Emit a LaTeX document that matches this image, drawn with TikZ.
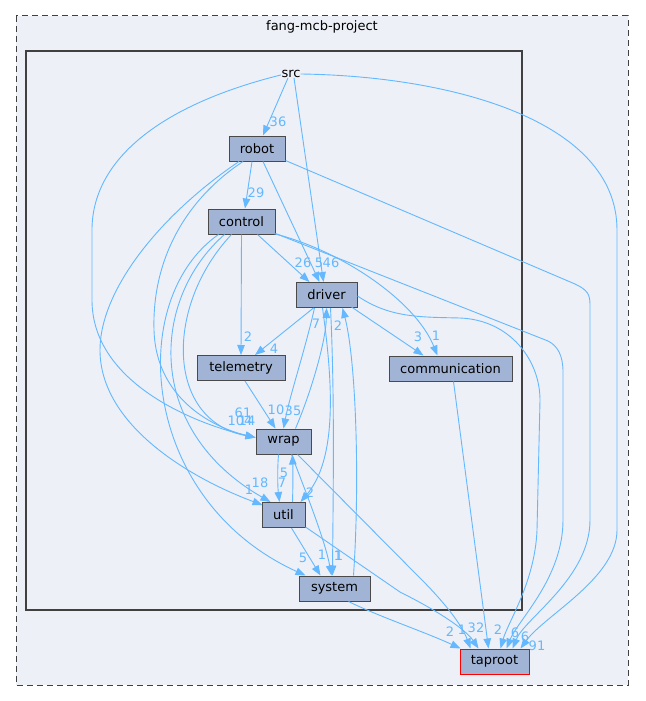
\documentclass[tikz,border=0pt]{standalone}
\usepackage{fontspec}
\setmainfont{DejaVu Sans}
\usetikzlibrary{arrows.meta,calc}
\definecolor{edgeblue}{HTML}{63B8FF}
\definecolor{nodefill}{HTML}{A2B4D6}
\definecolor{nodeborder}{HTML}{4A4A4A}
\definecolor{clusterfill}{HTML}{EDF0F7}
\definecolor{clusterborder}{HTML}{404040}
\newcommand{\dfont}{\fontsize{13}{15}\selectfont}
\begin{document}
\begin{tikzpicture}[x=1pt,y=-1pt,
  dep/.style={draw=edgeblue, line width=0.9pt, -{Triangle[length=10pt,width=7.5pt]}},
  dirbox/.style={draw=nodeborder, fill=nodefill, line width=1pt, minimum height=25pt, inner sep=0pt, font=\dfont},
  elab/.style={text=edgeblue, inner sep=0pt, font=\dfont},
  plainlab/.style={inner sep=0pt, font=\dfont}]
\useasboundingbox (0,0) rectangle (645,701);
\fill[white] (0,0) rectangle (645,701);
% clusters
\draw[clusterborder, fill=clusterfill, line width=1pt, dash pattern=on 6pt off 4pt] (16,16) rectangle (628,685);
\node[plainlab] (projlabel) at (322,27) {fang-mcb-project};
\draw[clusterborder, fill=clusterfill, line width=2pt] (26,51) rectangle (522,610);
% nodes
\node[plainlab] (src) at (291,74) {src};
\node[dirbox, minimum width=56pt] (robot) at (257,148.5) {robot};
\node[dirbox, minimum width=67pt] (control) at (241.5,221.5) {control};
\node[dirbox, minimum width=61pt] (driver) at (326.5,295) {driver};
\node[dirbox, minimum width=88pt] (telemetry) at (241,368) {telemetry};
\node[dirbox, minimum width=123pt] (communication) at (450.5,368.5) {communication};
\node[dirbox, minimum width=55pt] (wrap) at (283.5,441.5) {wrap};
\node[dirbox, minimum width=43pt] (util) at (283.5,515) {util};
\node[dirbox, minimum width=71pt] (system) at (334.5,588.5) {system};
\node[dirbox, draw=red, minimum width=69pt] (taproot) at (494.5,661.5) {taproot};
% src edges
\draw[dep] ([xshift=-3pt]src.south) -- ([xshift=6pt]robot.north);
\draw[dep] ([xshift=3pt]src.south) -- ([xshift=-3pt]driver.north);
\draw[dep] ([xshift=-10pt,yshift=3pt]src.south) .. controls (160,105) and (92,160) .. (92,230) -- (92,300) .. controls (92,385) and (200,425) .. ([yshift=4pt]wrap.west);
\draw[dep] (src.east) .. controls (450,76) and (617,120) .. (617,230) -- (617,530) .. controls (617,578) and (545,615) .. ([xshift=26pt]taproot.north);
% robot edges
\draw[dep] ([xshift=-5pt]robot.south) -- ([xshift=3.5pt]control.north);
\draw[dep] ([xshift=6pt]robot.south) -- ([xshift=-7pt]driver.north);
\draw[dep] ([yshift=1pt]robot.south east) -- (575,284) .. controls (588,290) and (590,295) .. (590,305) -- (590,520) .. controls (590,578) and (525,618) .. ([xshift=18pt]taproot.north);
\draw[dep] ([xshift=-18pt]robot.south) .. controls (160,215) and (100,290) .. (100,350) .. controls (100,425) and (190,478) .. ([xshift=-21pt,yshift=-3pt]util.north);
\draw[dep] ([xshift=-14pt]robot.south) .. controls (185,200) and (152,260) .. (154,330) .. controls (156,400) and (215,428) .. ([yshift=4pt]wrap.west);
% control edges
\draw[dep] (control.south) -- (telemetry.north);
\draw[dep] ([xshift=16pt]control.south) -- ([xshift=-17pt]driver.north);
\draw[dep] ([yshift=1pt,xshift=-2pt]control.south east) .. controls (340,250) and (415,300) .. ([xshift=-13pt]communication.north);
\draw[dep] ([yshift=1pt]control.south east) -- (548,341) .. controls (558,346) and (563,356) .. (563,372) -- (563,520) .. controls (563,578) and (518,620) .. ([xshift=12pt]taproot.north);
\draw[dep] ([xshift=-10pt]control.south) .. controls (165,305) and (165,420) .. ([yshift=4pt]wrap.west);
\draw[dep] ([xshift=-17pt]control.south) .. controls (150,300) and (145,430) .. ([xshift=-13pt]util.north);
\draw[dep] ([xshift=-23pt]control.south) .. controls (125,300) and (140,500) .. ([xshift=-29pt]system.north);
% driver edges
\draw[dep] ([xshift=-13pt]driver.south) -- ([xshift=14pt]telemetry.north);
\draw[dep] ([xshift=-6pt,yshift=1pt]driver.south east) -- ([xshift=-27pt]communication.north);
\draw[dep] ([xshift=-12pt]driver.south) .. controls (305,350) and (290,395) .. (wrap.north);
\draw[dep] ([xshift=-4pt]driver.south) .. controls (334,390) and (336,460) .. ([xshift=17pt]util.north);
\draw[dep] ([xshift=4pt]driver.south) .. controls (335,400) and (333,500) .. ([xshift=-2pt]system.north);
\draw[dep] ([yshift=-1pt]driver.east) .. controls (390,318) and (420,317) .. (460,318) .. controls (510,320) and (540,360) .. (540,400) -- (537,530) .. controls (535,582) and (508,622) .. ([xshift=6pt]taproot.north);
% telemetry edges
\draw[dep] ([xshift=4pt]telemetry.south) -- ([xshift=-8pt]wrap.north);
% wrap edges
\draw[dep] ([xshift=12pt]wrap.north) .. controls (312,390) and (326,340) .. (driver.south);
\draw[dep] ([xshift=-5pt]wrap.south) .. controls (277,475) and (278,490) .. ([xshift=-4pt]util.north);
\draw[dep] ([xshift=8pt]wrap.south) .. controls (305,490) and (325,540) .. ([xshift=-3pt]system.north);
\draw[dep] ([xshift=14pt]wrap.south) -- (420,578) .. controls (445,603) and (462,625) .. ([xshift=-24pt]taproot.north);
% util edges
\draw[dep] ([xshift=9pt]util.north) .. controls (293,485) and (293,470) .. ([xshift=9pt]wrap.south);
\draw[dep] ([xshift=8pt]util.south) -- ([xshift=-14pt]system.north);
\draw[dep] ([yshift=1pt]util.south east) -- (400,592) .. controls (440,612) and (466,630) .. ([xshift=-16pt]taproot.north);
% system edges
\draw[dep] ([xshift=19pt]system.north) .. controls (360,480) and (356,360) .. ([xshift=16pt]driver.south);
\draw[dep] ([xshift=14pt]system.south) .. controls (380,617) and (425,632) .. ([xshift=-34pt]taproot.north);
% communication edges
\draw[dep] ([xshift=3pt]communication.south) -- ([xshift=-6pt]taproot.north);
% edge labels
\node[elab] (l36) at (278,122) {36};
\node[elab] (l46) at (331,263) {46};
\node[elab] (l104) at (240,421) {104};
\node[elab] (l91) at (537,646) {91};
\node[elab] (l29) at (256,193) {29};
\node[elab] (l5a) at (319,263) {5};
\node[elab] (l1u) at (249,490) {1};
\node[elab] (l61) at (243,413) {61};
\node[elab] (l2t) at (248,337) {2};
\node[elab] (l26) at (303,263) {26};
\node[elab] (l1c) at (436,336) {1};
\node[elab] (l6c) at (525,637) {6};
\node[elab] (l14) at (247,421) {14};
\node[elab] (l18) at (260,483) {18};
\node[elab] (l5s) at (303,558) {5};
\node[elab] (l4) at (274,349) {4};
\node[elab] (l3) at (418,337) {3};
\node[elab] (l35) at (293,411) {35};
\node[elab] (l2u) at (310,493) {2};
\node[elab] (l1s) at (338,556) {1};
\node[elab] (l6d) at (515,633) {6};
\node[elab] (l10) at (276,410) {10};
\node[elab] (l7d) at (316,324) {7};
\node[elab] (l7u) at (282,483) {7};
\node[elab] (l1sw) at (339,556) {1};
\node[elab] (l1t) at (462,630) {1};
\node[elab] (l5w) at (284,473) {5};
\node[elab] (l1us) at (322,555) {1};
\node[elab] (l32) at (476,628) {32};
\node[elab] (l2d) at (338,326) {2};
\node[elab] (l2s) at (450,632) {2};
\node[elab] (l2c) at (498,630) {2};
\end{tikzpicture}
\end{document}
